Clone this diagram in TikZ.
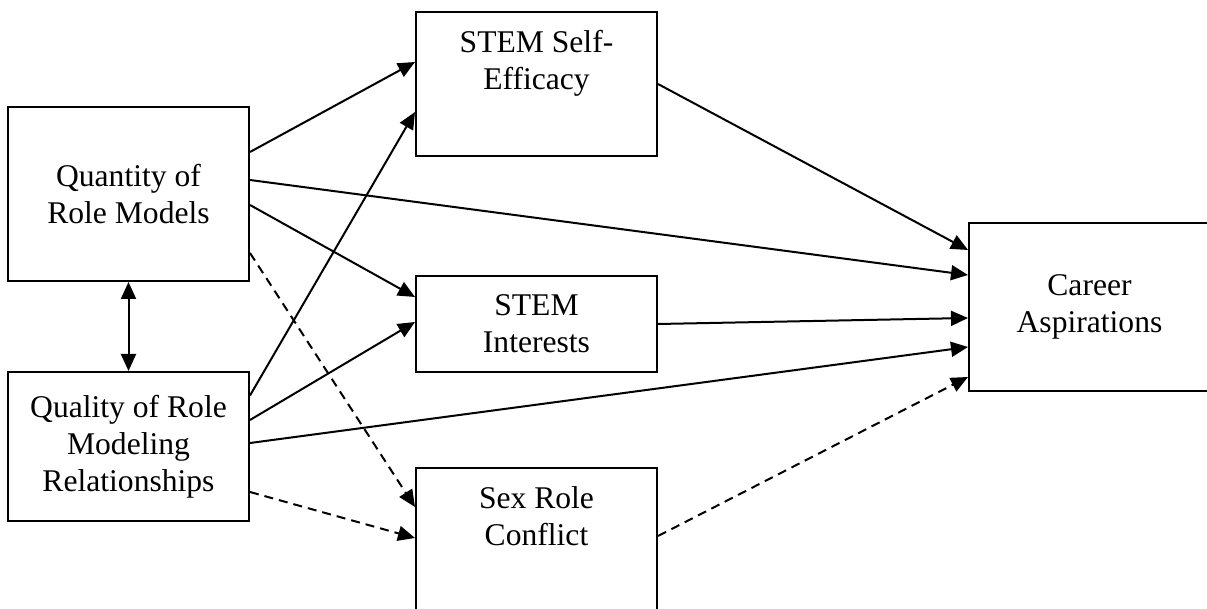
\documentclass[tikz,border=0pt]{standalone}
\usepackage{fontspec}
\setmainfont{Liberation Serif}
\usepackage{tikz}
\usetikzlibrary{arrows.meta}
\tikzstyle{box} = [draw, line width=1pt, minimum width=120.5pt, inner sep=0pt]
\tikzstyle{txt} = [align=center, inner sep=0pt, font=\fontsize{15.8}{18.5}\selectfont]
\tikzstyle{arrow} = [line width=1pt, ->, >={Triangle[length=8.5pt,width=7.5pt]}]
\tikzstyle{darrow} = [arrow, dash pattern=on 4.5pt off 3pt]

\begin{document}
\begin{tikzpicture}[x=0.5pt,y=-0.5pt]
\clip (0,0) rectangle (1207,609);

% predictors
\node[box, txt, minimum height=87pt] (qty) at (128.5,194) {Quantity of\\Role Models};
\node[box, txt, minimum height=74.5pt] (qly) at (128.5,446.5) {Quality of Role\\Modeling\\Relationships};

% mediators
\node[box, minimum height=72pt] (se) at (536.5,84) {};
\node[txt, anchor=north] (setxt) at ([yshift=-9.5pt]se.north) {STEM Self-\\Efficacy};
\node[box, txt, minimum height=48pt] (int) at (536.5,324) {STEM\\Interests};
\node[box, minimum height=72pt] (src) at (536.5,540) {};
\node[txt, anchor=north] (srctxt) at ([yshift=-9.5pt]src.north) {Sex Role\\Conflict};

% outcome
\node[box, txt, minimum height=84pt] (car) at (1089.5,307) {Career\\Aspirations};

\draw[arrow, <->] (qty) -- (qly);

\draw[arrow] ([yshift=21pt]qty.east) -- ([yshift=11pt]se.west);
\draw[arrow] ([yshift=7pt]qty.east) -- ([yshift=16pt]car.west);
\draw[arrow] ([yshift=-5.5pt]qty.east) -- ([yshift=13.5pt]int.west);
\draw[darrow] ([yshift=-29.5pt]qty.east) -- ([yshift=16.5pt]src.west);

\draw[arrow] ([yshift=25.5pt]qly.east) -- ([yshift=-14pt]se.west);
\draw[arrow] ([yshift=13.25pt]qly.east) -- ([yshift=1pt]int.west);
\draw[arrow] ([yshift=1.75pt]qly.east) -- ([yshift=-20pt]car.west);
\draw[darrow] ([yshift=-22.75pt]qly.east) -- ([yshift=1pt]src.west);

\draw[arrow] (se.east) -- ([yshift=28.5pt]car.west);
\draw[arrow] (int.east) -- ([yshift=-5.5pt]car.west);
\draw[darrow] ([yshift=2pt]src.east) -- ([yshift=-35pt]car.west);
\end{tikzpicture}
\end{document}
